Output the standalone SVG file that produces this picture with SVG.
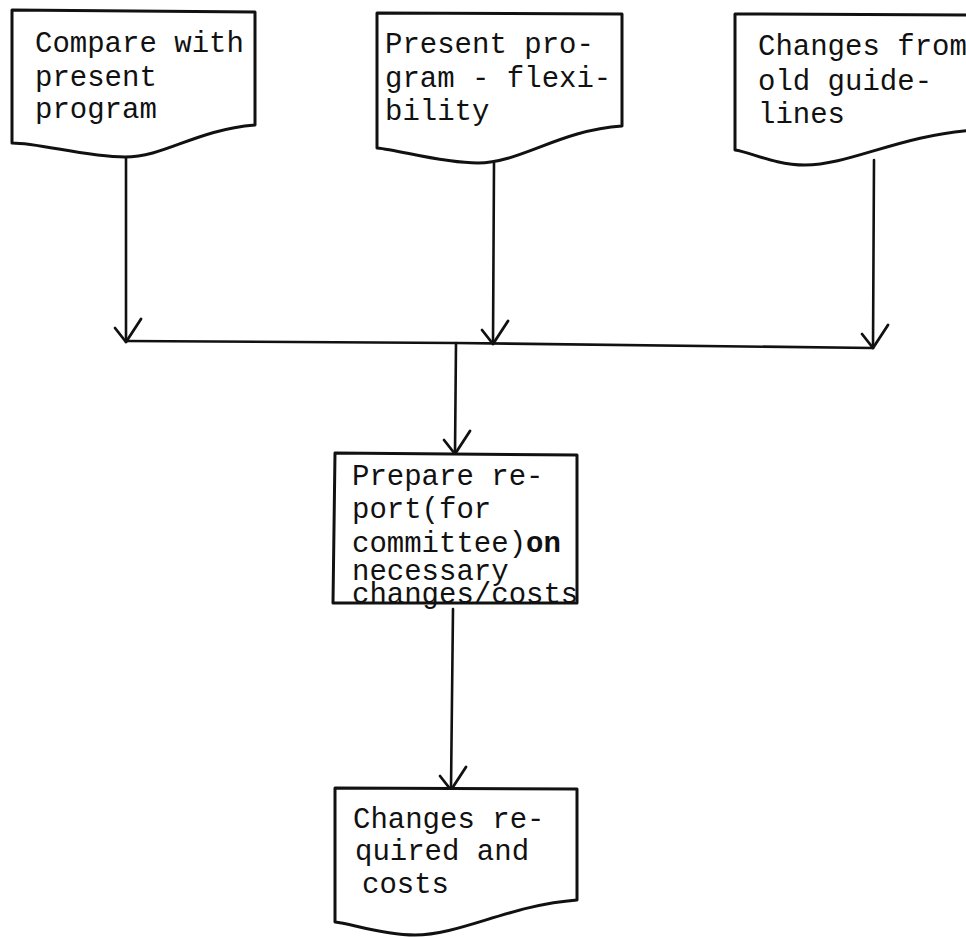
<svg xmlns="http://www.w3.org/2000/svg" width="966" height="937" viewBox="0 0 966 937">
  <style>
    .shape { fill: #fff; stroke: #111; stroke-width: 3; stroke-linejoin: round; }
    .wire { fill: none; stroke: #111; stroke-width: 2.6; stroke-linecap: round; }
    .label { font-family: "Liberation Mono", "DejaVu Sans Mono", monospace; font-size: 29px; fill: #111; }
  </style>
  <defs>
    <!-- hand-drawn open arrowhead, tip at the origin, pointing down -->
    <path id="vee" d="M-11,-14 L0,0 L15,-23" fill="none" stroke="#111" stroke-width="2.8" stroke-linecap="round" stroke-linejoin="round"/>
  </defs>

  <rect width="966" height="937" fill="#fff"/>

  <!-- connectors -->
  <g id="connectors">
    <path class="wire" d="M126,157 L126,342"/>
    <path class="wire" d="M494,163 L493,344"/>
    <path class="wire" d="M874,160 L873,348"/>
    <path class="wire" d="M126,341 L456,343 L873,348"/>
    <path class="wire" d="M456,343 L455,453"/>
    <path class="wire" d="M453,609 L451,789"/>
    <use href="#vee" x="126" y="342"/>
    <use href="#vee" x="493" y="344"/>
    <use href="#vee" x="873" y="348"/>
    <use href="#vee" x="455" y="454"/>
    <use href="#vee" x="451" y="790"/>
  </g>

  <!-- input documents -->
  <g id="compare-present">
    <path class="shape" d="M12,10 L255,12 L255,125 C195,130 165,157 125,157 C85,157 40,143 12,143 Z"/>
    <text class="label" x="35" y="52">Compare with</text>
    <text class="label" x="35" y="86">present</text>
    <text class="label" x="35" y="118">program</text>
  </g>

  <g id="present-flexibility">
    <path class="shape" d="M377,13 L622,14 L622,126 C560,130 520,163 478,163 C440,163 400,150 377,148 Z"/>
    <text class="label" x="385" y="53">Present pro-</text>
    <text class="label" x="385" y="87">gram - flexi-</text>
    <text class="label" x="385" y="120">bility</text>
  </g>

  <g id="old-guidelines">
    <path class="shape" d="M735,14 L975,15 L975,130 C900,135 850,165 805,165 C775,165 750,152 735,150 Z"/>
    <text class="label" x="758" y="55">Changes from</text>
    <text class="label" x="758" y="90">old guide-</text>
    <text class="label" x="758" y="123">lines</text>
  </g>

  <!-- process step -->
  <g id="prepare-report">
    <path class="shape" d="M335,453 L577,455 L577,603 L333,603 Z"/>
    <text class="label" x="352" y="485">Prepare re-</text>
    <text class="label" x="352" y="518">port(for</text>
    <text class="label" x="352" y="552">committee)<tspan font-weight="bold">on</tspan></text>
    <text class="label" x="352" y="580">necessary</text>
    <text class="label" x="352" y="603">changes/costs</text>
  </g>

  <!-- output document -->
  <g id="changes-costs">
    <path class="shape" d="M335,788 L577,789 L577,900 C510,905 460,935 415,935 C380,935 350,923 335,922 Z"/>
    <text class="label" x="353" y="828">Changes re-</text>
    <text class="label" x="355" y="860">quired and</text>
    <text class="label" x="362" y="893">costs</text>
  </g>
</svg>
